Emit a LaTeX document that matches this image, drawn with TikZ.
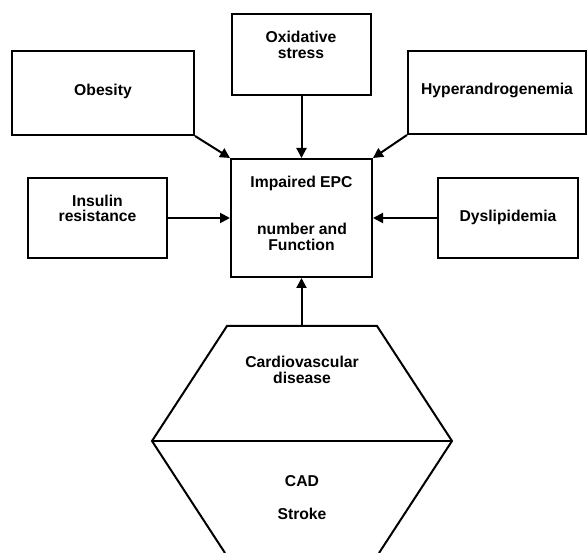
\documentclass[tikz,border=0pt]{standalone}
\usepackage{fontspec}
\setmainfont{Liberation Sans}
\usetikzlibrary{arrows.meta}
\begin{document}
\begin{tikzpicture}[x=1pt,y=-1pt,
  box/.style={draw=black,line width=2pt,rectangle,inner sep=0pt},
  lbl/.style={anchor=base,inner sep=0pt,font=\bfseries\fontsize{15.7}{16}\selectfont},
  conn/.style={line width=2pt,-{Triangle[length=10pt,width=10pt]}},
  shapeline/.style={line width=2pt,line join=miter}]
\useasboundingbox (0,0) rectangle (587,553);
% boxes
\node[box,minimum width=182pt,minimum height=84pt] (obesity) at (103,93) {};
\node[box,minimum width=139pt,minimum height=81pt] (oxid) at (301.5,54.5) {};
\node[box,minimum width=178pt,minimum height=83pt] (hyper) at (497,92.5) {};
\node[box,minimum width=141pt,minimum height=118pt] (epc) at (301.5,218) {};
\node[box,minimum width=139pt,minimum height=80pt] (insulin) at (97.5,218) {};
\node[box,minimum width=140pt,minimum height=80pt] (dys) at (508,218) {};
% texts
\node[lbl] (t1) at (301,43) {Oxidative};
\node[lbl] (t2) at (301,59) {stress};
\node[lbl] (t3) at (103,96) {Obesity};
\node[lbl] (t4) at (497,95) {Hyperandrogenemia};
\node[lbl] (t5) at (97.5,207) {Insulin};
\node[lbl] (t6) at (97.5,222) {resistance};
\node[lbl] (t7) at (508,222) {Dyslipidemia};
\node[lbl] (t8) at (301.5,188) {Impaired EPC};
\node[lbl] (t9) at (302,235) {number and};
\node[lbl] (t10) at (301.5,251) {Function};
\node[lbl] (t11) at (302,368) {Cardiovascular};
\node[lbl] (t12) at (302,384) {disease};
\node[lbl] (t13) at (302,487) {CAD};
\node[lbl] (t14) at (302,519) {Stroke};
% hexagon
\coordinate (hbl) at (225,553);
\coordinate (hl) at (152,441);
\coordinate (htl) at (227,326);
\coordinate (htr) at (377,326);
\coordinate (hr) at (452,441);
\coordinate (hbr) at (379,553);
\coordinate (htop) at (301.5,326);
\draw[shapeline] (hbl) -- (hl) -- (htl) -- (htr) -- (hr) -- (hbr);
\draw[shapeline] (hl) -- (hr);
% connectors
\draw[conn] (obesity.south east) -- (epc.north west);
\draw[conn] (hyper.south west) -- (epc.north east);
\draw[conn] (oxid.south) -- (epc.north);
\draw[conn] (insulin.east) -- (epc.west);
\draw[conn] (dys.west) -- (epc.east);
\draw[conn] (htop) -- (epc.south);
\end{tikzpicture}
\end{document}
